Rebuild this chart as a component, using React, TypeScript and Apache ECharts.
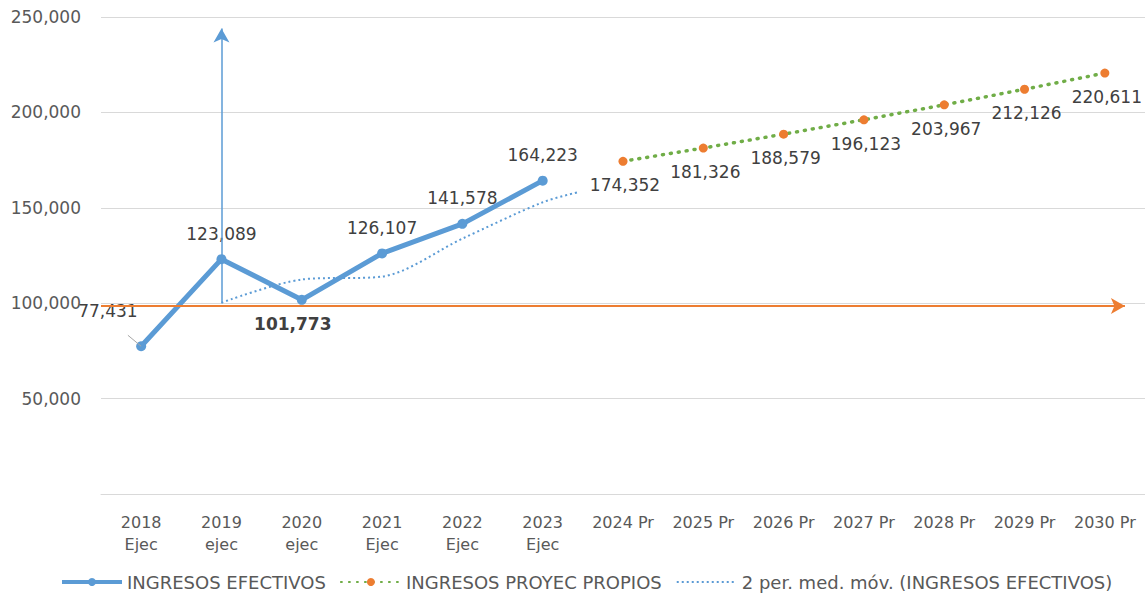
import React, { useEffect, useRef } from "react";
import * as echarts from "echarts";

const categories = [
  "2018\nEjec", "2019\nejec", "2020\nejec", "2021\nEjec", "2022\nEjec", "2023\nEjec",
  "2024 Pr", "2025 Pr", "2026 Pr", "2027 Pr", "2028 Pr", "2029 Pr", "2030 Pr",
];
const ingresosEfectivos: (number | null)[] = [77431, 123089, 101773, 126107, 141578, 164223];
const ingresosProyec: (number | null)[] = [
  null, null, null, null, null, null,
  174352, 181326, 188579, 196123, 203967, 212126, 220611,
];
// 2-period moving average of INGRESOS EFECTIVOS (x = category index), with short forward trend
const mediaMovil: [number, number][] = [
  [1, 100260], [2, 112431], [3, 113940], [4, 133843], [5, 152901], [5.45, 158300],
];
const yTicks = { min: 0, max: 250000, interval: 50000 };

const FONT = "'DejaVu Sans', sans-serif";
const TXT = "#595959";
const LBL = "#404040";
const BLUE = "#5B9BD5";
const ORANGE = "#ED7D31";
const GREEN = "#70AD47";

const fmt = (v: number) => v.toLocaleString("en-US");

export default function App() {
  const ref = useRef<HTMLDivElement>(null);
  useEffect(() => {
    if (!ref.current) return;
    const chart = echarts.init(ref.current, undefined, { renderer: "svg" });
    chart.setOption({
      animation: false,
      textStyle: { fontFamily: FONT },
      grid: { left: 101, right: 0, top: 17, bottom: 104, containLabel: false },
      legend: {
        bottom: 2,
        left: 55,
        itemWidth: 60,
        itemHeight: 10,
        itemGap: 14,
        textStyle: { color: TXT, fontSize: 18, fontFamily: FONT },
        data: [
          { name: "INGRESOS EFECTIVOS", lineStyle: { width: 4 } },
          { name: "INGRESOS PROYEC PROPIOS" },
          { name: "2 per. med. móv. (INGRESOS EFECTIVOS)", itemStyle: { opacity: 0 } },
        ],
      },
      xAxis: [
        {
          type: "category",
          data: categories,
          boundaryGap: true,
          axisLine: { show: true, lineStyle: { color: "#d9d9d9" } },
          axisTick: { show: false },
          axisLabel: { color: TXT, fontSize: 16, lineHeight: 22, margin: 17, interval: 0, fontFamily: FONT },
        },
        {
          type: "value",
          min: -0.5,
          max: 12.5,
          show: false,
        },
      ],
      yAxis: {
        type: "value",
        min: yTicks.min,
        max: yTicks.max,
        interval: yTicks.interval,
        axisLine: { show: false },
        axisTick: { show: false },
        splitLine: { lineStyle: { color: "#d9d9d9" } },
        axisLabel: {
          color: TXT,
          fontSize: 17,
          margin: 20,
          fontFamily: FONT,
          formatter: (v: number) => (v === 0 ? "" : fmt(v)),
        },
      },
      series: [
        {
          name: "2 per. med. móv. (INGRESOS EFECTIVOS)",
          type: "line",
          xAxisIndex: 1,
          data: mediaMovil,
          smooth: 0.3,
          symbol: "none",
          z: 2,
          lineStyle: { color: BLUE, width: 2, type: [2, 3] },
          itemStyle: { color: BLUE },
          markLine: {
            silent: true,
            label: { show: false },
            symbolSize: [12, 14],
            data: [
              [
                { coord: [1, 100000], symbol: "none", lineStyle: { color: BLUE, width: 1.5, type: "solid" } },
                { coord: [1, 244000], symbol: "arrow" },
              ],
              [
                { coord: [-0.5, 98500], symbol: "none", lineStyle: { color: ORANGE, width: 2, type: "solid" } },
                { coord: [12.25, 98500], symbol: "arrow" },
              ],
              [
                { coord: [-0.165, 83200], symbol: "none", lineStyle: { color: "#a6a6a6", width: 1, type: "solid" } },
                { coord: [0, 77431], symbol: "none" },
              ],
            ],
          },
        },
        {
          name: "INGRESOS EFECTIVOS",
          type: "line",
          data: ingresosEfectivos.map((v, i) => {
            if (i === 0)
              return {
                value: v,
                label: { position: [-58, -39] },
              };
            if (i === 2)
              return {
                value: v,
                label: { position: "bottom", distance: 11, offset: [-9, 0], fontWeight: "bold" },
              };
            return v;
          }),
          symbol: "circle",
          symbolSize: 10,
          z: 4,
          lineStyle: { color: BLUE, width: 5 },
          itemStyle: { color: BLUE },
          label: {
            show: true,
            position: "top",
            distance: 12,
            color: LBL,
            fontSize: 17,
            fontFamily: FONT,
            formatter: (p: any) => fmt(p.value),
          },
        },
        {
          name: "INGRESOS PROYEC PROPIOS",
          type: "line",
          data: ingresosProyec,
          symbol: "circle",
          symbolSize: 9,
          z: 3,
          lineStyle: { color: GREEN, width: 3.5, type: [1, 7], cap: "round" },
          itemStyle: { color: ORANGE },
          label: {
            show: true,
            position: "bottom",
            distance: 11,
            offset: [2, 0],
            color: LBL,
            fontSize: 17,
            fontFamily: FONT,
            formatter: (p: any) => (p.value == null ? "" : fmt(p.value)),
          },
        },
      ],
    });
    return () => chart.dispose();
  }, []);
  return <div ref={ref} style={{ width: 1145, height: 598, position: "absolute", left: 0, top: 0 }} />;
}
